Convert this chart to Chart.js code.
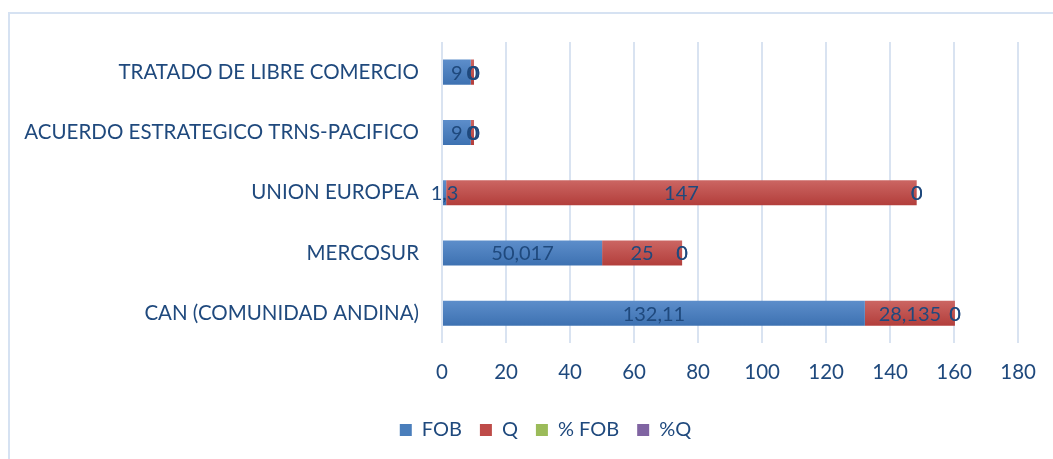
<!DOCTYPE html>
<html>
<head>
<meta charset="utf-8">
<script src="https://cdn.jsdelivr.net/npm/chart.js@4.4.1/dist/chart.umd.min.js"></script>
<style>
  html, body { margin: 0; padding: 0; background: #fff; overflow: hidden; }
  #frame { position: absolute; left: 8px; top: 12px; width: 1100px; height: 500px; border: 2px solid #D6E2F2; }
  #wrap { position: absolute; left: 0; top: 0; width: 1053px; height: 459px; }
</style>
</head>
<body>
<div id="frame"></div>
<div id="wrap"><canvas id="chart" width="1053" height="459"></canvas></div>
<script>
const categories = ['TRATADO DE LIBRE COMERCIO', 'ACUERDO ESTRATEGICO TRNS-PACIFICO', 'UNION EUROPEA', 'MERCOSUR', 'CAN (COMUNIDAD ANDINA)'];
const fob = [9, 9, 1.3, 50.017, 132.11];
const q = [1, 1, 147, 25, 28.135];
const pctFob = [0, 0, 0, 0, 0];
const pctQ = [0, 0, 0, 0, 0];
const fobLabels = ['9', '9', '1,3', '50,017', '132,11'];
const qLabels = ['0', '0', '147', '25', '28,135'];
const pctFobLabels = ['0', '0', '0', '0', '0'];
const pctQLabels = ['0', '0', '0', '0', '0'];
const xTicks = [0, 20, 40, 60, 80, 100, 120, 140, 160, 180];

const textColor = '#1F497D';
const font = "Lato, 'Open Sans', sans-serif";
const fontSize = 20.5;
const legendColors = ['#4A7EBB', '#BE4B48', '#9BBB59', '#8064A2'];

// excel style vertical shading on each bar
const shade = (top, bottom) => (c) => {
  const yScale = c.chart.scales.y;
  if (!yScale || c.dataIndex === undefined) return bottom;
  const cy = yScale.getPixelForValue(c.dataIndex);
  if (!isFinite(cy)) return bottom;
  const g = c.chart.ctx.createLinearGradient(0, cy - 12, 0, cy + 12);
  g.addColorStop(0, top);
  g.addColorStop(1, bottom);
  return g;
};

// draws the value labels like the excel data labels
const barLabels = {
  id: 'barLabels',
  afterDatasetsDraw(chart) {
    const ctx = chart.ctx;
    const lists = [fobLabels, qLabels, pctFobLabels, pctQLabels];
    ctx.save();
    ctx.font = '20px ' + font;
    ctx.fillStyle = textColor;
    ctx.textAlign = 'center';
    ctx.textBaseline = 'middle';
    chart.data.datasets.forEach((ds, di) => {
      const meta = chart.getDatasetMeta(di);
      meta.data.forEach((el, i) => {
        const txt = lists[di][i];
        if (!txt) return;
        const cx = (el.x + el.base) / 2;
        ctx.fillText(txt, cx, el.y + 1);
      });
    });
    ctx.restore();
  }
};

// legend sits a bit right of the canvas centre in the original
const legendShift = {
  id: 'legendShift',
  afterLayout(chart) {
    chart.legend.left += 36;
    chart.legend.right += 36;
  }
};

Chart.defaults.font.family = font;
Chart.defaults.color = textColor;

new Chart(document.getElementById('chart'), {
  type: 'bar',
  data: {
    labels: categories,
    datasets: [
      { label: 'FOB', data: fob, backgroundColor: shade('#5C8DCA', '#3E72B2') },
      { label: 'Q', data: q, backgroundColor: shade('#CB6562', '#B33F3C') },
      { label: '% FOB', data: pctFob, backgroundColor: shade('#A8C66A', '#8DAE4B') },
      { label: '%Q', data: pctQ, backgroundColor: shade('#8E73AE', '#705596') }
    ].map(ds => ({ ...ds, borderWidth: 0, barPercentage: 0.52, categoryPercentage: 0.8 }))
  },
  options: {
    indexAxis: 'y',
    responsive: false,
    animation: false,
    layout: { padding: { top: 42, right: 34, bottom: 9, left: 0 } },
    plugins: {
      tooltip: { enabled: false },
      legend: {
        position: 'bottom',
        labels: {
          boxWidth: 12, boxHeight: 12, padding: 18, font: { size: 20 }, color: textColor,
          generateLabels: chart => chart.data.datasets.map((ds, i) => ({
            text: ds.label, fillStyle: legendColors[i], strokeStyle: legendColors[i],
            lineWidth: 0, hidden: false, datasetIndex: i, fontColor: textColor
          }))
        }
      }
    },
    scales: {
      x: {
        stacked: true, min: 0, max: 180,
        afterBuildTicks: axis => { axis.ticks = xTicks.map(v => ({ value: v })); },
        grid: { color: '#D9E3F1', lineWidth: 2, drawTicks: false },
        border: { display: false },
        ticks: { padding: 17, font: { size: fontSize }, color: textColor }
      },
      y: {
        stacked: true,
        afterFit: axis => { axis.width = 442; },
        grid: { display: false },
        border: { display: false },
        ticks: { padding: 15, font: { size: fontSize }, color: textColor }
      }
    }
  },
  plugins: [barLabels, legendShift]
});
</script>
</body>
</html>
